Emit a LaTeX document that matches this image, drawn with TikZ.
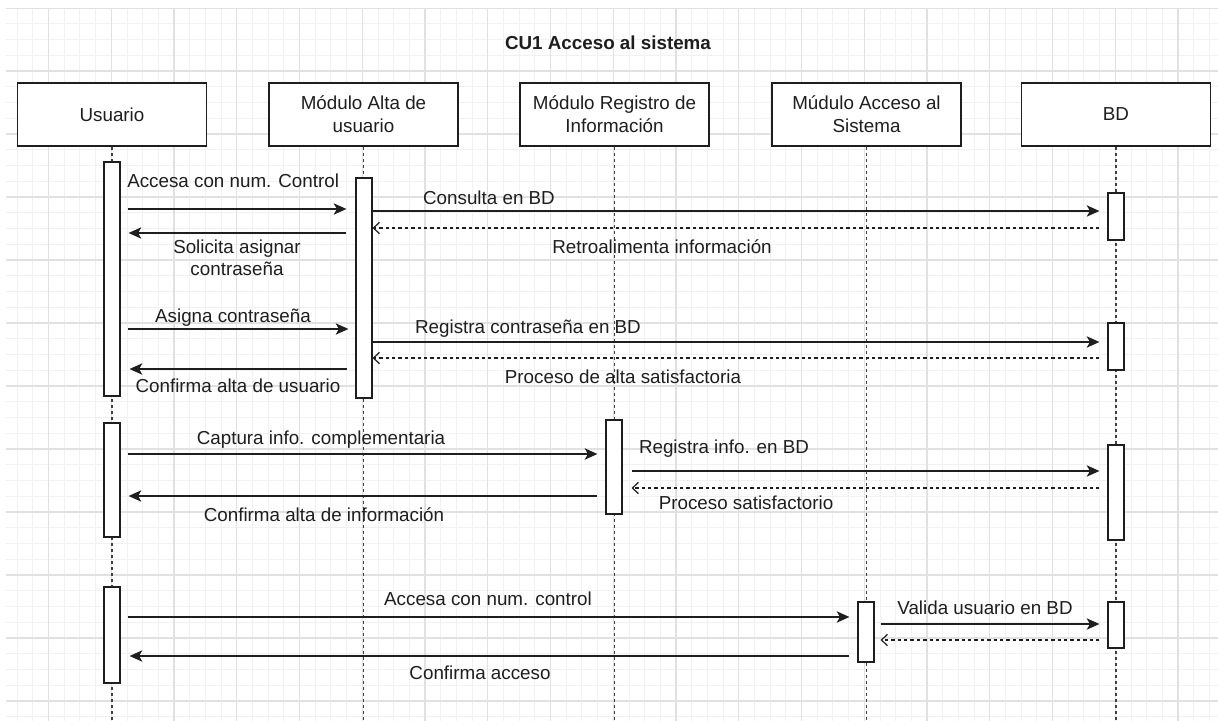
\documentclass[tikz,border=0pt]{standalone}
\usepackage{fontspec}
\setmainfont{Liberation Sans}
\usetikzlibrary{arrows.meta}
\definecolor{ink}{HTML}{1E1E1E}
\definecolor{gridminor}{HTML}{F1F1F1}
\definecolor{gridmajor}{HTML}{E1E1E1}

\begin{document}
\begin{tikzpicture}[x=0.75pt,y=-0.75pt,
  txt/.style={font=\fontsize{14.1pt}{17.25pt}\selectfont, text=ink, inner sep=0pt},
  actor/.style={draw=ink, line width=1.1pt, fill=white, minimum width=141.75pt,
    minimum height=47.25pt, inner sep=0pt, align=center,
    font=\fontsize{14.1pt}{17.25pt}\selectfont, text=ink},
  bar/.style={draw=ink, line width=0.9pt, fill=white, minimum width=12pt, inner sep=0pt},
  lifeline/.style={draw=ink!85, line width=0.9pt, dash pattern=on 2.6pt off 1.9pt},
  msg/.style={draw=ink, line width=1.1pt, -{Stealth[length=9.5pt,width=8.5pt,inset=2.4pt]}},
  reply/.style={draw=ink, line width=0.9pt, dash pattern=on 2.6pt off 2.2pt,
    -{Straight Barb[length=4.5pt,width=8.5pt,line width=0.9pt]}}
]
\useasboundingbox (0,0) rectangle (1218,721);
\fill[white] (0,0) rectangle (1218,721);

% background grid
\begin{scope}
  \clip (6,8) rectangle (1218,721);
  \foreach \i in {0,...,80} {
    \draw[gridminor, line width=0.6pt] ({-14.25+\i*15.6875},8) -- ({-14.25+\i*15.6875},721);
  }
  \foreach \j in {0,...,46} {
    \draw[gridminor, line width=0.6pt] (6,{8+\j*15.75}) -- (1218,{8+\j*15.75});
  }
  \foreach \i in {0,...,20} {
    \draw[gridmajor, line width=0.8pt] ({-14.25+\i*62.75},8) -- ({-14.25+\i*62.75},721);
  }
  \foreach \j in {0,...,11} {
    \draw[gridmajor, line width=0.8pt] (6,{8+\j*63}) -- (1218,{8+\j*63});
  }
\end{scope}

% title
\node[txt, font=\fontsize{14.1pt}{17.25pt}\selectfont\bfseries, anchor=base] (title) at (608,49) {CU1 Acceso al sistema};

% participants
\node[actor] (usr) at (112,114.5) {Usuario};
\node[actor] (alt) at (363.5,114.5) {Módulo Alta de\\usuario};
\node[actor] (reg) at (614.5,114.5) {Módulo Registro de\\Información};
\node[actor] (acc) at (866.5,114.5) {Múdulo Acceso al\\Sistema};
\node[actor] (bd)  at (1116,114.5) {BD};

% lifelines
\coordinate (bottom) at (0,721);
\foreach \p in {usr,alt,reg,acc,bd} {
  \draw[lifeline] (\p.south) -- (\p.south |- bottom);
}

% activation bars: name, x, top, bottom
\newcommand\actbar[4]{\node[bar, minimum height={(#4-#3)*0.75pt}] (#1) at (#2,{(#3+#4)/2}) {};}
\actbar{ua}{112}{162}{396}
\actbar{ub}{112}{423}{537}
\actbar{uc}{112}{587}{683}
\actbar{altbar}{364}{178}{398}
\actbar{regbar}{614}{420}{514}
\actbar{accbar}{866}{602}{662}
\actbar{bda}{1116}{193}{240}
\actbar{bdb}{1116}{323}{370}
\actbar{bdc}{1116}{445}{540}
\actbar{bdd}{1116}{602}{648}

% message levels
\foreach \n/\y in {m1/209,m2/211,m3/228,m4/233,m5/329,m6/342,m7/358,m8/369,
                   m9/454,m10/471,m11/488,m12/496,m13/617,m14/624,m15/640,m16/656} {
  \coordinate (\n) at (0,\y);
}

% messages
\draw[msg, shorten <=5.25pt, shorten >=6.75pt] (ua.east |- m1) -- (altbar.west |- m1);
\draw[msg, shorten >=6pt] (altbar.east |- m2) -- (bda.west |- m2);
\draw[reply, shorten <=6pt] (bda.west |- m3) -- (altbar.east |- m3);
\draw[msg, shorten <=6.75pt, shorten >=6pt] (altbar.west |- m4) -- (ua.east |- m4);
\draw[msg, shorten <=5.25pt, shorten >=5.25pt] (ua.east |- m5) -- (altbar.west |- m5);
\draw[msg, shorten >=6pt] (altbar.east |- m6) -- (bdb.west |- m6);
\draw[reply, shorten <=6pt] (bdb.west |- m7) -- (altbar.east |- m7);
\draw[msg, shorten <=6pt, shorten >=6.75pt] (altbar.west |- m8) -- (ua.east |- m8);
\draw[msg, shorten <=5.25pt, shorten >=6pt] (ub.east |- m9) -- (regbar.west |- m9);
\draw[msg, shorten <=6.75pt, shorten >=6pt] (regbar.east |- m10) -- (bdc.west |- m10);
\draw[reply, shorten <=6pt, shorten >=6.75pt] (bdc.west |- m11) -- (regbar.east |- m11);
\draw[msg, shorten <=6pt, shorten >=6pt] (regbar.west |- m12) -- (ub.east |- m12);
\draw[msg, shorten <=5.25pt, shorten >=6pt] (uc.east |- m13) -- (accbar.west |- m13);
\draw[msg, shorten <=4.5pt, shorten >=6pt] (accbar.east |- m14) -- (bdd.west |- m14);
\draw[reply, shorten <=6pt, shorten >=4.5pt] (bdd.west |- m15) -- (accbar.east |- m15);
\draw[msg, shorten <=6pt, shorten >=6.75pt] (accbar.west |- m16) -- (uc.east |- m16);

% message labels
\node[txt, anchor=base west] (l1) at (127,187) {Accesa con num. Control};
\node[txt, anchor=base] (l2) at (489,204) {Consulta en BD};
\node[txt, anchor=base] (l3) at (662,253) {Retroalimenta información};
\node[txt, anchor=base] (l4a) at (237,253) {Solicita asignar};
\node[txt, anchor=base] (l4b) at (237,275) {contraseña};
\node[txt, anchor=base] (l5) at (233,322) {Asigna contraseña};
\node[txt, anchor=base] (l6) at (528,333) {Registra contraseña en BD};
\node[txt, anchor=base] (l7) at (623,383) {Proceso de alta satisfactoria};
\node[txt, anchor=base] (l8) at (238,392) {Confirma alta de usuario};
\node[txt, anchor=base] (l9) at (321,444) {Captura info. complementaria};
\node[txt, anchor=base] (l10) at (724,453) {Registra info. en BD};
\node[txt, anchor=base] (l11) at (746,509) {Proceso satisfactorio};
\node[txt, anchor=base] (l12) at (324,521) {Confirma alta de información};
\node[txt, anchor=base] (l13) at (488,605) {Accesa con num. control};
\node[txt, anchor=base] (l14) at (985,614) {Valida usuario en BD};
\node[txt, anchor=base] (l16) at (480,679) {Confirma acceso};
\end{tikzpicture}
\end{document}
